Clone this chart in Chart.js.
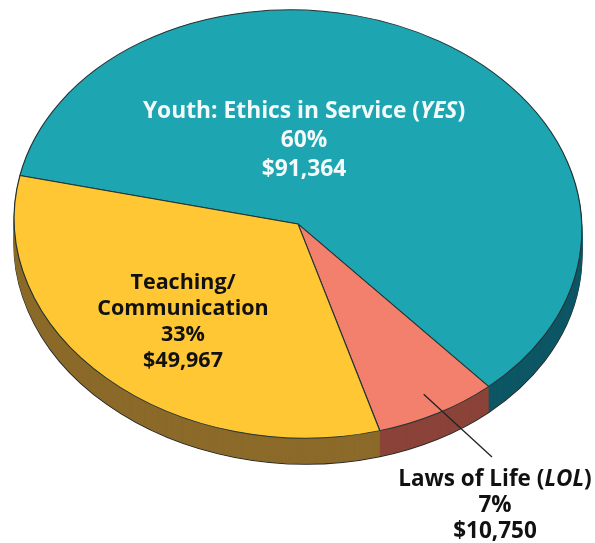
<!DOCTYPE html>
<html>
<head>
<meta charset="utf-8">
<script src="https://cdn.jsdelivr.net/npm/chart.js@4.4.1/dist/chart.umd.min.js"></script>
<style>
  html, body { margin: 0; padding: 0; background: #fff; }
  #wrap { width: 595px; height: 543px; position: relative; }
</style>
</head>
<body>
<div id="wrap"><canvas id="pie"></canvas></div>
<script>
// slices in clockwise order, starting at the left edge of the pie
const categories = [["Youth: Ethics in Service (YES)"], ["Laws of Life (LOL)"], ["Teaching/", "Communication"]];
const amounts = [91364, 10750, 49967];
const topColors = ["#1da5b2", "#f2806c", "#fec733"];
const sideColors = ["#0d5765", "#8b4339", "#8c6a2a"];

// the flat Chart.js pie gets squashed into this ellipse (screen px)
const ELLIPSE = { cx: 298, cy: 224, rx: 284, ry: 214, tilt: 2.7 * Math.PI / 180 };
const DEPTH = 26;
const FONT = '"Open Sans", "DejaVu Sans", sans-serif';

// where each slice's text block sits
const labelLayout = [
  { x: 304, y: 112, lh: 29, size: 22.8, color: "#f4fafa" },
  { x: 495, y: 480, lh: 26, size: 22.5, color: "#111", leader: { x: 492, y: 457, frac: 0.9 } },
  { x: 183, y: 283, lh: 26, size: 21.5, color: "#111" }
];

function toEllipse(ctx, ref, dy) {
  ctx.translate(ELLIPSE.cx, ELLIPSE.cy + dy);
  ctx.rotate(ELLIPSE.tilt);
  ctx.scale(ELLIPSE.rx / ref.outerRadius, ELLIPSE.ry / ref.outerRadius);
  ctx.translate(-ref.x, -ref.y);
}

function mapPoint(ref, px, py) {
  const sx = (px - ref.x) * ELLIPSE.rx / ref.outerRadius;
  const sy = (py - ref.y) * ELLIPSE.ry / ref.outerRadius;
  const c = Math.cos(ELLIPSE.tilt), s = Math.sin(ELLIPSE.tilt);
  return { x: ELLIPSE.cx + sx * c - sy * s, y: ELLIPSE.cy + sx * s + sy * c };
}

// text in parentheses is set in italic
function segments(line) {
  const m = line.match(/^(.*\()(.+)(\).*)$/);
  if (!m) return [{ t: line, italic: false }];
  return [{ t: m[1], italic: false }, { t: m[2], italic: true }, { t: m[3], italic: false }];
}

function drawRich(ctx, segs, cx, y, size, color) {
  const fonts = segs.map(s => (s.italic ? "italic " : "") + "bold " + size + "px " + FONT);
  let total = 0;
  const widths = segs.map((s, i) => { ctx.font = fonts[i]; const w = ctx.measureText(s.t).width; total += w; return w; });
  let x = cx - total / 2;
  ctx.fillStyle = color;
  ctx.textAlign = "left";
  ctx.textBaseline = "middle";
  segs.forEach((s, i) => { ctx.font = fonts[i]; ctx.fillText(s.t, x, y); x += widths[i]; });
}

const tiltPlugin = {
  id: "tilt",
  beforeDatasetsDraw(chart) {
    const ctx = chart.ctx;
    const arcs = chart.getDatasetMeta(0).data;
    const ref = arcs[0];
    // side wall: darker copies stacked downwards
    for (let d = DEPTH; d >= 1; d--) {
      ctx.save();
      toEllipse(ctx, ref, d);
      arcs.forEach((arc, i) => {
        const orig = arc.options;
        arc.options = Object.assign({}, orig, {
          backgroundColor: sideColors[i],
          borderColor: d === DEPTH ? "#2a2a2a" : sideColors[i],
          borderWidth: d === DEPTH ? 1.2 : 0.6
        });
        arc.draw(ctx);
        arc.options = orig;
      });
      ctx.restore();
    }
    ctx.save();
    toEllipse(ctx, ref, 0);
  },
  afterDatasetsDraw(chart) {
    const ctx = chart.ctx;
    ctx.restore();
    const arcs = chart.getDatasetMeta(0).data;
    const ref = arcs[0];
    const total = amounts.reduce((a, b) => a + b, 0);
    arcs.forEach((arc, i) => {
      const L = labelLayout[i];
      const lines = categories[i].map(segments);
      lines.push([{ t: Math.round(amounts[i] / total * 100) + "%", italic: false }]);
      lines.push([{ t: "$" + amounts[i].toLocaleString("en-US"), italic: false }]);
      lines.forEach((segs, k) => drawRich(ctx, segs, L.x, L.y + k * L.lh, L.size, L.color));
      if (L.leader) {
        const mid = (arc.startAngle + arc.endAngle) / 2;
        const r = arc.outerRadius * L.leader.frac;
        const p = mapPoint(ref, arc.x + Math.cos(mid) * r, arc.y + Math.sin(mid) * r);
        ctx.beginPath();
        ctx.moveTo(p.x, p.y);
        ctx.lineTo(L.leader.x, L.leader.y);
        ctx.strokeStyle = "#222";
        ctx.lineWidth = 1.3;
        ctx.stroke();
      }
    });
  }
};

new Chart(document.getElementById("pie"), {
  type: "pie",
  data: {
    labels: categories,
    datasets: [{
      data: amounts,
      backgroundColor: topColors,
      borderColor: "#243434",
      borderWidth: 1.1,
      clip: false
    }]
  },
  options: {
    responsive: true,
    maintainAspectRatio: false,
    animation: false,
    events: [],
    rotation: 279.5,
    layout: { padding: 10 },
    plugins: { legend: { display: false }, tooltip: { enabled: false } }
  },
  plugins: [tiltPlugin]
});
</script>
</body>
</html>
